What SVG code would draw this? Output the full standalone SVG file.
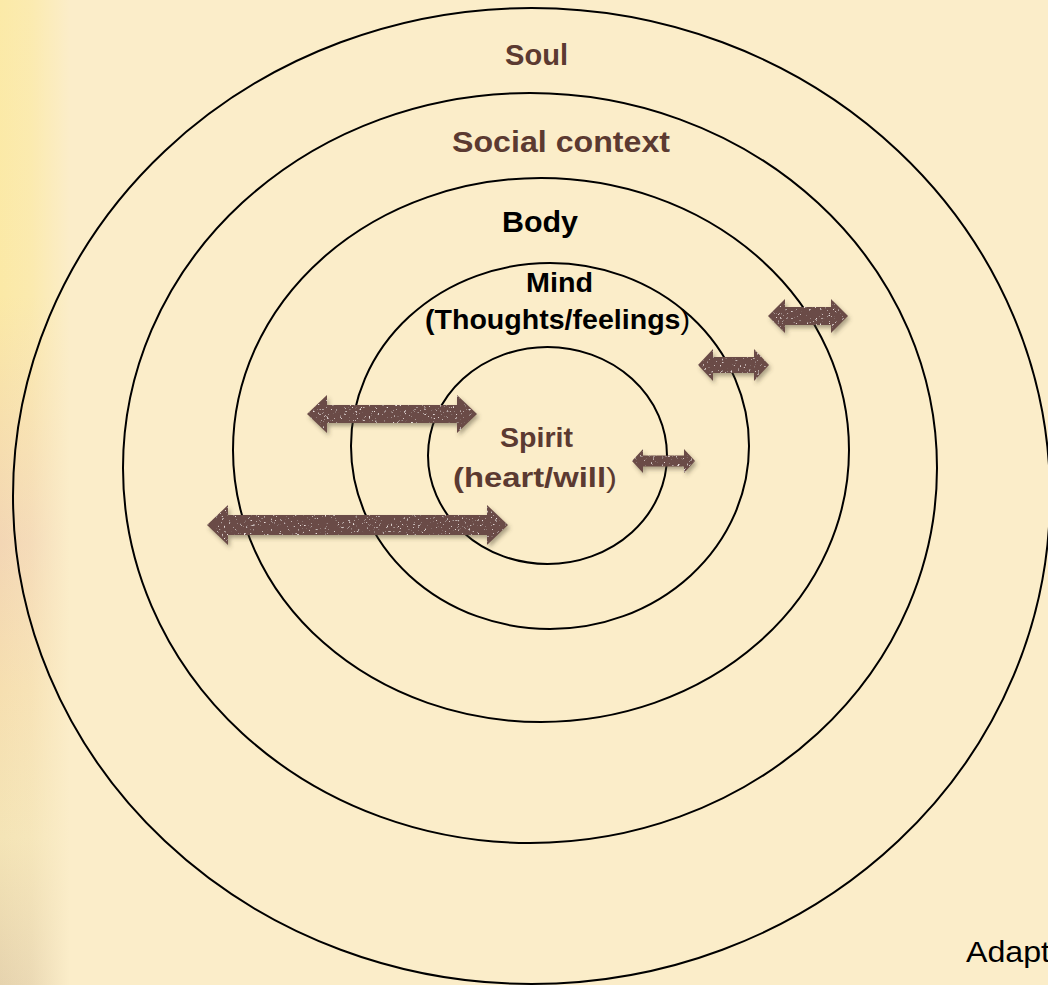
<svg xmlns="http://www.w3.org/2000/svg" width="1048" height="985" viewBox="0 0 1048 985">
  <defs>
    <style>
      .ring { fill: none; stroke: #000; stroke-width: 2; }
      .lbl { font-family: "Liberation Sans", Arial, sans-serif; font-weight: bold; text-anchor: middle; }
      .brown { fill: #5b3a31; }
      .black { fill: #000; }
      .thin { font-weight: normal; }
      .arrow { fill: #6a4b46; filter: url(#tex); }
    </style>
    <linearGradient id="leftV" x1="0" y1="0" x2="0" y2="1">
      <stop offset="0" stop-color="#fbeaa8"/>
      <stop offset="0.3" stop-color="#fbe9a6"/>
      <stop offset="0.55" stop-color="#f3d6b4"/>
      <stop offset="0.7" stop-color="#f6dfb0"/>
      <stop offset="0.85" stop-color="#f4e4b6"/>
      <stop offset="1" stop-color="#e6d3ae"/>
    </linearGradient>
    <linearGradient id="leftFade" x1="0" y1="0" x2="1" y2="0">
      <stop offset="0" stop-color="#fbedc9" stop-opacity="0"/>
      <stop offset="0.45" stop-color="#fbedc9" stop-opacity="0.25"/>
      <stop offset="1" stop-color="#fbedc9" stop-opacity="1"/>
    </linearGradient>
    <filter id="tex" x="-10%" y="-60%" width="125%" height="240%">
      <feTurbulence type="fractalNoise" baseFrequency="0.45" numOctaves="2" seed="7" result="n"/>
      <feColorMatrix in="n" type="matrix" values="0 0 0 0 0.86  0 0 0 0 0.76  0 0 0 0 0.74  7 0 0 0 -4.6" result="spk"/>
      <feComposite in="spk" in2="SourceAlpha" operator="in" result="spkIn"/>
      <feGaussianBlur in="SourceAlpha" stdDeviation="2.2" result="b"/>
      <feOffset in="b" dx="2" dy="3" result="o"/>
      <feFlood flood-color="#4a4330" flood-opacity="0.45"/>
      <feComposite in2="o" operator="in" result="sh"/>
      <feMerge>
        <feMergeNode in="sh"/>
        <feMergeNode in="SourceGraphic"/>
        <feMergeNode in="spkIn"/>
      </feMerge>
    </filter>
  </defs>

  <rect x="0" y="0" width="1048" height="985" fill="#fbedc9"/>
  <rect x="0" y="0" width="70" height="985" fill="url(#leftV)"/>
  <rect x="0" y="0" width="70" height="985" fill="url(#leftFade)"/>

  <g id="soul">
    <ellipse class="ring" cx="531.5" cy="496" rx="518.5" ry="488"/>
    <text class="lbl brown" x="536.5" y="65" font-size="30" textLength="63" lengthAdjust="spacingAndGlyphs">Soul</text>
  </g>
  <g id="social-context">
    <ellipse class="ring" cx="530" cy="468" rx="407" ry="375"/>
    <text class="lbl brown" x="561" y="152" font-size="30" textLength="218" lengthAdjust="spacingAndGlyphs">Social context</text>
  </g>
  <g id="body">
    <ellipse class="ring" cx="541" cy="450" rx="308" ry="272"/>
    <text class="lbl black" x="540" y="232" font-size="30" textLength="76" lengthAdjust="spacingAndGlyphs">Body</text>
  </g>
  <g id="mind">
    <ellipse class="ring" cx="550" cy="446" rx="199" ry="183"/>
    <text class="lbl black" x="559.5" y="292" font-size="27" textLength="67" lengthAdjust="spacingAndGlyphs">Mind</text>
    <text class="lbl black" x="557.5" y="329" font-size="27" textLength="265" lengthAdjust="spacingAndGlyphs">(Thoughts/feelings<tspan class="thin">)</tspan></text>
  </g>
  <g id="spirit">
    <ellipse class="ring" cx="547.5" cy="455.5" rx="119.5" ry="108.5"/>
    <text class="lbl brown" x="536.5" y="447" font-size="28" textLength="73" lengthAdjust="spacingAndGlyphs">Spirit</text>
    <text class="lbl brown" x="535" y="487" font-size="28" textLength="164" lengthAdjust="spacingAndGlyphs">(heart/will<tspan class="thin">)</tspan></text>
  </g>

  <g id="connectors">
    <polygon class="arrow" points="307,414 327,395 327,405 457,405 457,395 477,414 457,433 457,423 327,423 327,433"/>
    <polygon class="arrow" points="207,525 228,505 228,515 487,515 487,505 508,525 487,545 487,535 228,535 228,545"/>
    <polygon class="arrow" points="632,461 643,449 643,455.5 684,455.5 684,449 695,461 684,473 684,466.5 643,466.5 643,473"/>
    <polygon class="arrow" points="698,365 713,349 713,357 754,357 754,349 769,365 754,381 754,373 713,373 713,381"/>
    <polygon class="arrow" points="768,316 785,299 785,307 831,307 831,299 848,316 831,333 831,325 785,325 785,333"/>
  </g>

  <g id="credit">
    <text x="966" y="962" font-family="Liberation Sans, Arial, sans-serif" font-size="30" fill="#000" textLength="84" lengthAdjust="spacingAndGlyphs">Adapt</text>
  </g>
</svg>
